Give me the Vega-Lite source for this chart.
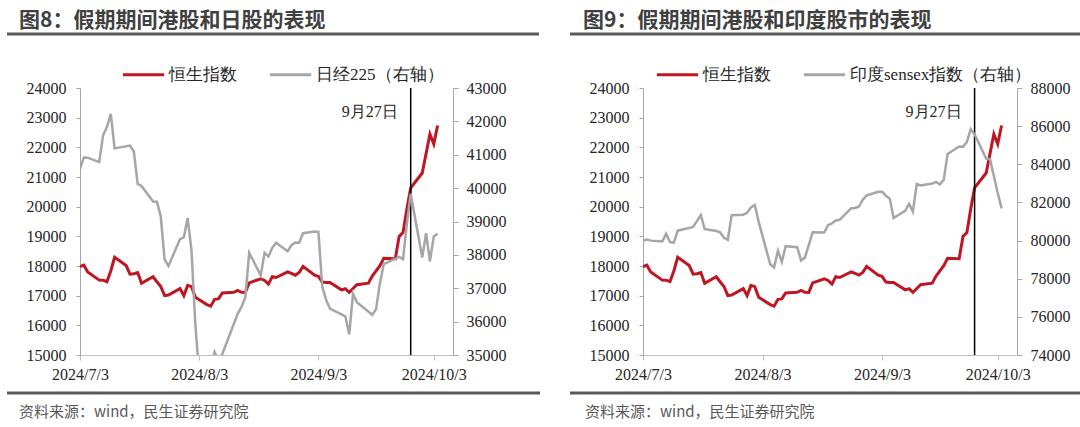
{
  "$schema": "https://vega.github.io/schema/vega-lite/v6.json",
  "background": "white",
  "padding": {"left": 5, "top": 10, "right": 0, "bottom": 0},
  "autosize": {"type": "pad"},
  "config": {
    "view": {"stroke": null},
    "font": "Noto Sans CJK SC",
    "axis": {"grid": false}
  },
  "datasets": {
    "hsi": [
      {"date": "2024-07-03", "value": 17979}, {"date": "2024-07-04", "value": 18028}, {"date": "2024-07-05", "value": 17800},
      {"date": "2024-07-08", "value": 17524}, {"date": "2024-07-09", "value": 17523}, {"date": "2024-07-10", "value": 17472},
      {"date": "2024-07-11", "value": 17832}, {"date": "2024-07-12", "value": 18293}, {"date": "2024-07-15", "value": 18016},
      {"date": "2024-07-16", "value": 17727}, {"date": "2024-07-17", "value": 17739}, {"date": "2024-07-18", "value": 17778},
      {"date": "2024-07-19", "value": 17418}, {"date": "2024-07-22", "value": 17636}, {"date": "2024-07-23", "value": 17469},
      {"date": "2024-07-24", "value": 17311}, {"date": "2024-07-25", "value": 17005}, {"date": "2024-07-26", "value": 17022},
      {"date": "2024-07-29", "value": 17238}, {"date": "2024-07-30", "value": 17003}, {"date": "2024-07-31", "value": 17345},
      {"date": "2024-08-01", "value": 17304}, {"date": "2024-08-02", "value": 16946}, {"date": "2024-08-05", "value": 16699},
      {"date": "2024-08-06", "value": 16647}, {"date": "2024-08-07", "value": 16877}, {"date": "2024-08-08", "value": 16891},
      {"date": "2024-08-09", "value": 17090}, {"date": "2024-08-12", "value": 17112}, {"date": "2024-08-13", "value": 17175},
      {"date": "2024-08-14", "value": 17114}, {"date": "2024-08-15", "value": 17110}, {"date": "2024-08-16", "value": 17430},
      {"date": "2024-08-19", "value": 17570}, {"date": "2024-08-20", "value": 17511}, {"date": "2024-08-21", "value": 17391},
      {"date": "2024-08-22", "value": 17641}, {"date": "2024-08-23", "value": 17612}, {"date": "2024-08-26", "value": 17799},
      {"date": "2024-08-27", "value": 17754}, {"date": "2024-08-28", "value": 17692}, {"date": "2024-08-29", "value": 17786},
      {"date": "2024-08-30", "value": 17989}, {"date": "2024-09-02", "value": 17692}, {"date": "2024-09-03", "value": 17651},
      {"date": "2024-09-04", "value": 17457}, {"date": "2024-09-05", "value": 17444}, {"date": "2024-09-06", "value": 17444},
      {"date": "2024-09-09", "value": 17197}, {"date": "2024-09-10", "value": 17234}, {"date": "2024-09-11", "value": 17109},
      {"date": "2024-09-12", "value": 17240}, {"date": "2024-09-13", "value": 17369}, {"date": "2024-09-16", "value": 17422},
      {"date": "2024-09-17", "value": 17660}, {"date": "2024-09-19", "value": 18013}, {"date": "2024-09-20", "value": 18259},
      {"date": "2024-09-23", "value": 18247}, {"date": "2024-09-24", "value": 19000}, {"date": "2024-09-25", "value": 19129},
      {"date": "2024-09-26", "value": 19924}, {"date": "2024-09-27", "value": 20632}, {"date": "2024-09-30", "value": 21134},
      {"date": "2024-10-02", "value": 22444}, {"date": "2024-10-03", "value": 22114}, {"date": "2024-10-04", "value": 22737}
    ],
    "n225": [
      {"date": "2024-07-03", "value": 40580}, {"date": "2024-07-04", "value": 40914}, {"date": "2024-07-05", "value": 40912},
      {"date": "2024-07-08", "value": 40781}, {"date": "2024-07-09", "value": 41580}, {"date": "2024-07-10", "value": 41831},
      {"date": "2024-07-11", "value": 42224}, {"date": "2024-07-12", "value": 41191}, {"date": "2024-07-16", "value": 41275},
      {"date": "2024-07-17", "value": 41098}, {"date": "2024-07-18", "value": 40126}, {"date": "2024-07-19", "value": 40064},
      {"date": "2024-07-22", "value": 39599}, {"date": "2024-07-23", "value": 39594}, {"date": "2024-07-24", "value": 39155},
      {"date": "2024-07-25", "value": 37869}, {"date": "2024-07-26", "value": 37667}, {"date": "2024-07-29", "value": 38469},
      {"date": "2024-07-30", "value": 38526}, {"date": "2024-07-31", "value": 39102}, {"date": "2024-08-01", "value": 38126},
      {"date": "2024-08-02", "value": 35910}, {"date": "2024-08-05", "value": 31458}, {"date": "2024-08-06", "value": 34675},
      {"date": "2024-08-07", "value": 35089}, {"date": "2024-08-08", "value": 34831}, {"date": "2024-08-09", "value": 35025},
      {"date": "2024-08-13", "value": 36233}, {"date": "2024-08-14", "value": 36442}, {"date": "2024-08-15", "value": 36727},
      {"date": "2024-08-16", "value": 38063}, {"date": "2024-08-19", "value": 37389}, {"date": "2024-08-20", "value": 38063},
      {"date": "2024-08-21", "value": 37952}, {"date": "2024-08-22", "value": 38211}, {"date": "2024-08-23", "value": 38364},
      {"date": "2024-08-26", "value": 38110}, {"date": "2024-08-27", "value": 38289}, {"date": "2024-08-28", "value": 38372},
      {"date": "2024-08-29", "value": 38363}, {"date": "2024-08-30", "value": 38648}, {"date": "2024-09-02", "value": 38701},
      {"date": "2024-09-03", "value": 38686}, {"date": "2024-09-04", "value": 37048}, {"date": "2024-09-05", "value": 36657},
      {"date": "2024-09-06", "value": 36392}, {"date": "2024-09-09", "value": 36216}, {"date": "2024-09-10", "value": 36159},
      {"date": "2024-09-11", "value": 35620}, {"date": "2024-09-12", "value": 36834}, {"date": "2024-09-13", "value": 36582},
      {"date": "2024-09-17", "value": 36204}, {"date": "2024-09-18", "value": 36380}, {"date": "2024-09-19", "value": 37155},
      {"date": "2024-09-20", "value": 37724}, {"date": "2024-09-24", "value": 37941}, {"date": "2024-09-25", "value": 37871},
      {"date": "2024-09-26", "value": 38926}, {"date": "2024-09-27", "value": 39830}, {"date": "2024-09-30", "value": 37920},
      {"date": "2024-10-01", "value": 38652}, {"date": "2024-10-02", "value": 37809}, {"date": "2024-10-03", "value": 38552},
      {"date": "2024-10-04", "value": 38636}
    ],
    "sensex": [
      {"date": "2024-07-03", "value": 79987}, {"date": "2024-07-04", "value": 80050}, {"date": "2024-07-05", "value": 79997},
      {"date": "2024-07-08", "value": 79960}, {"date": "2024-07-09", "value": 80352}, {"date": "2024-07-10", "value": 79925},
      {"date": "2024-07-11", "value": 79897}, {"date": "2024-07-12", "value": 80519}, {"date": "2024-07-15", "value": 80665},
      {"date": "2024-07-16", "value": 80717}, {"date": "2024-07-18", "value": 81343}, {"date": "2024-07-19", "value": 80605},
      {"date": "2024-07-22", "value": 80502}, {"date": "2024-07-23", "value": 80429}, {"date": "2024-07-24", "value": 80149},
      {"date": "2024-07-25", "value": 80040}, {"date": "2024-07-26", "value": 81333}, {"date": "2024-07-29", "value": 81356},
      {"date": "2024-07-30", "value": 81455}, {"date": "2024-07-31", "value": 81741}, {"date": "2024-08-01", "value": 81868},
      {"date": "2024-08-02", "value": 80982}, {"date": "2024-08-05", "value": 78759}, {"date": "2024-08-06", "value": 78593},
      {"date": "2024-08-07", "value": 79468}, {"date": "2024-08-08", "value": 78886}, {"date": "2024-08-09", "value": 79706},
      {"date": "2024-08-12", "value": 79649}, {"date": "2024-08-13", "value": 78956}, {"date": "2024-08-14", "value": 79106},
      {"date": "2024-08-16", "value": 80437}, {"date": "2024-08-19", "value": 80425}, {"date": "2024-08-20", "value": 80803},
      {"date": "2024-08-21", "value": 80905}, {"date": "2024-08-22", "value": 81053}, {"date": "2024-08-23", "value": 81086},
      {"date": "2024-08-26", "value": 81698}, {"date": "2024-08-27", "value": 81712}, {"date": "2024-08-28", "value": 81786},
      {"date": "2024-08-29", "value": 82135}, {"date": "2024-08-30", "value": 82366}, {"date": "2024-09-02", "value": 82560},
      {"date": "2024-09-03", "value": 82555}, {"date": "2024-09-04", "value": 82353}, {"date": "2024-09-05", "value": 82201},
      {"date": "2024-09-06", "value": 81184}, {"date": "2024-09-09", "value": 81560}, {"date": "2024-09-10", "value": 81921},
      {"date": "2024-09-11", "value": 81523}, {"date": "2024-09-12", "value": 82963}, {"date": "2024-09-13", "value": 82891},
      {"date": "2024-09-16", "value": 82989}, {"date": "2024-09-17", "value": 83080}, {"date": "2024-09-18", "value": 82948},
      {"date": "2024-09-19", "value": 83185}, {"date": "2024-09-20", "value": 84544}, {"date": "2024-09-23", "value": 84929},
      {"date": "2024-09-24", "value": 84914}, {"date": "2024-09-25", "value": 85170}, {"date": "2024-09-26", "value": 85836},
      {"date": "2024-09-27", "value": 85572}, {"date": "2024-09-30", "value": 84300}, {"date": "2024-10-01", "value": 84266},
      {"date": "2024-10-03", "value": 82497}, {"date": "2024-10-04", "value": 81688}
    ],
    "event": [{"date": "2024-09-27", "label": "9月27日"}],
    "title8": [{"text": "图8：假期期间港股和日股的表现"}],
    "title9": [{"text": "图9：假期期间港股和印度股市的表现"}],
    "source": [{"text": "资料来源：wind，民生证券研究院"}]
  },
  "resolve": {"scale": {"x": "independent", "y": "independent", "color": "independent"}},
  "spacing": 26,
  "hconcat": [
    {
      "resolve": {"scale": {"x": "independent", "y": "independent", "color": "independent"}},
      "spacing": 16,
      "vconcat": [
        {
          "width": 459, "height": 24,
          "layer": [
            {
              "data": {"name": "title8"},
              "mark": {"type": "text", "align": "left", "baseline": "top", "dx": 12, "fontSize": 21, "fontWeight": "bold", "font": "Noto Sans CJK SC", "color": "#404040"},
              "encoding": {
                "x": {"datum": 0, "type": "quantitative", "scale": {"domain": [0, 1], "range": [-73, 459]}, "axis": null},
                "y": {"datum": 1, "type": "quantitative", "scale": {"domain": [0, 1]}, "axis": null},
                "text": {"field": "text"}
              }
            },
            {
              "data": {"name": "title8"},
              "mark": {"type": "rule", "color": "#595959", "strokeWidth": 3},
              "encoding": {
                "x": {"datum": 0, "type": "quantitative", "axis": null},
                "x2": {"datum": 1},
                "y": {"datum": 0, "type": "quantitative", "axis": null}
              }
            }
          ]
        },
        {
          "resolve": {"scale": {"x": "independent", "y": "independent", "color": "independent"}},
          "spacing": 9,
          "vconcat": [
            {
              "width": 373, "height": 267,
              "resolve": {"scale": {"x": "independent", "y": "independent"}},
              "layer": [
                {
                  "resolve": {"scale": {"y": "independent"}},
                  "layer": [
                    {
                      "layer": [
                        {
                          "data": {"name": "hsi"},
                          "mark": {"type": "line", "strokeWidth": 3, "clip": true},
                          "encoding": {
                            "x": {"field": "date", "type": "temporal",
                              "scale": {"type": "utc", "domain": [{"year": 2024, "month": 7, "date": 3, "utc": true}, {"year": 2024, "month": 10, "date": 8, "utc": true}]},
                              "axis": {"values": [{"year": 2024, "month": 7, "date": 3, "utc": true}, {"year": 2024, "month": 8, "date": 3, "utc": true}, {"year": 2024, "month": 9, "date": 3, "utc": true}, {"year": 2024, "month": 10, "date": 3, "utc": true}],
                                "format": "%Y/%-m/%-d", "title": null, "labelFlush": false, "labelOverlap": false, "labelFont": "Liberation Serif", "labelFontSize": 16, "labelColor": "#262626",
                                "domainColor": "#BFBFBF", "tickColor": "#BFBFBF", "tickSize": 5, "labelPadding": 6}},
                            "y": {"field": "value", "type": "quantitative",
                              "scale": {"domain": [15000, 24000], "zero": false, "nice": false},
                              "axis": {"orient": "left", "values": [15000, 16000, 17000, 18000, 19000, 20000, 21000, 22000, 23000, 24000], "format": "d", "title": null,
                                "labelFlush": false, "labelOverlap": false, "labelFont": "Liberation Serif", "labelFontSize": 16, "labelColor": "#262626",
                                "domainColor": "#A6A6A6", "tickColor": "#A6A6A6", "tickSize": 4, "labelPadding": 10}},
                            "color": {"datum": "恒生指数", "type": "nominal",
                              "scale": {"domain": ["恒生指数", "日经225（右轴）"], "range": ["#BE1622", "#A6A6A6"]},
                              "legend": {"orient": "none", "legendX": 41, "legendY": -36, "direction": "horizontal", "title": null, "labelLimit": 400,
                                "symbolType": "stroke", "symbolSize": 1700, "symbolStrokeWidth": 3, "labelFont": "Liberation Serif", "labelFontSize": 17, "labelColor": "#262626", "labelOffset": 3, "columnPadding": 26}}
                          }
                        },
                        {
                          "data": {"name": "event"},
                          "mark": {"type": "rule", "color": "#000000", "strokeWidth": 1.5},
                          "encoding": {"x": {"field": "date", "type": "temporal"}}
                        },
                        {
                          "data": {"name": "event"},
                          "mark": {"type": "text", "align": "right", "baseline": "middle", "dx": -13, "font": "Liberation Serif", "fontSize": 16, "color": "#262626"},
                          "encoding": {
                            "x": {"field": "date", "type": "temporal"},
                            "y": {"datum": 23200, "type": "quantitative",
                              "axis": {"orient": "left", "values": [15000, 16000, 17000, 18000, 19000, 20000, 21000, 22000, 23000, 24000], "format": "d", "title": null,
                                "labelFlush": false, "labelOverlap": false, "labelFont": "Liberation Serif", "labelFontSize": 16, "labelColor": "#262626",
                                "domainColor": "#A6A6A6", "tickColor": "#A6A6A6", "tickSize": 4, "labelPadding": 10}},
                            "text": {"field": "label"}
                          }
                        }
                      ]
                    },
                    {
                      "data": {"name": "n225"},
                      "mark": {"type": "line", "strokeWidth": 2.5, "clip": true},
                      "encoding": {
                        "x": {"field": "date", "type": "temporal"},
                        "y": {"field": "value", "type": "quantitative",
                          "scale": {"domain": [35000, 43000], "zero": false, "nice": false},
                          "axis": {"orient": "right", "values": [35000, 36000, 37000, 38000, 39000, 40000, 41000, 42000, 43000], "format": "d", "title": null,
                            "labelFlush": false, "labelOverlap": false, "labelFont": "Liberation Serif", "labelFontSize": 16, "labelColor": "#262626",
                            "domainColor": "#A6A6A6", "tickColor": "#A6A6A6", "tickSize": 5, "labelPadding": 8}},
                        "color": {"datum": "日经225（右轴）", "type": "nominal"}
                      }
                    }
                  ]
                },
                {
                  "data": {"name": "source"},
                  "mark": {"type": "rule", "color": "#595959", "strokeWidth": 3},
                  "encoding": {
                    "x": {"datum": 0, "type": "quantitative", "scale": {"domain": [0, 1], "range": [-73, 460]}, "axis": null},
                    "x2": {"datum": 1},
                    "y": {"datum": 0, "type": "quantitative", "scale": {"domain": [0, 1], "range": [305, 306]}, "axis": null}
                  }
                }
              ]
            },
            {
              "width": 460, "height": 15,
              "data": {"name": "source"},
              "mark": {"type": "text", "align": "left", "baseline": "middle", "dx": 12, "fontSize": 15, "font": "Noto Sans CJK SC", "color": "#595959"},
              "encoding": {
                "x": {"datum": 0, "type": "quantitative", "scale": {"domain": [0, 1], "range": [-73, 460]}, "axis": null},
                "y": {"datum": 0.5, "type": "quantitative", "scale": {"domain": [0, 1]}, "axis": null},
                "text": {"field": "text"}
              }
            }
          ]
        }
      ]
    },
    {
      "resolve": {"scale": {"x": "independent", "y": "independent", "color": "independent"}},
      "spacing": 16,
      "vconcat": [
        {
          "width": 443, "height": 24,
          "layer": [
            {
              "data": {"name": "title9"},
              "mark": {"type": "text", "align": "left", "baseline": "top", "dx": 13, "fontSize": 21, "fontWeight": "bold", "font": "Noto Sans CJK SC", "color": "#404040"},
              "encoding": {
                "x": {"datum": 0, "type": "quantitative", "scale": {"domain": [0, 1], "range": [-73, 443]}, "axis": null},
                "y": {"datum": 1, "type": "quantitative", "scale": {"domain": [0, 1]}, "axis": null},
                "text": {"field": "text"}
              }
            },
            {
              "data": {"name": "title9"},
              "mark": {"type": "rule", "color": "#595959", "strokeWidth": 3},
              "encoding": {
                "x": {"datum": 0, "type": "quantitative", "axis": null},
                "x2": {"datum": 1},
                "y": {"datum": 0, "type": "quantitative", "axis": null}
              }
            }
          ]
        },
        {
          "resolve": {"scale": {"x": "independent", "y": "independent", "color": "independent"}},
          "spacing": 9,
          "vconcat": [
            {
              "width": 374, "height": 267,
              "resolve": {"scale": {"x": "independent", "y": "independent"}},
              "layer": [
                {
                  "resolve": {"scale": {"y": "independent"}},
                  "layer": [
                    {
                      "layer": [
                        {
                          "data": {"name": "hsi"},
                          "mark": {"type": "line", "strokeWidth": 3, "clip": true},
                          "encoding": {
                            "x": {"field": "date", "type": "temporal",
                              "scale": {"type": "utc", "domain": [{"year": 2024, "month": 7, "date": 3, "utc": true}, {"year": 2024, "month": 10, "date": 8, "utc": true}]},
                              "axis": {"values": [{"year": 2024, "month": 7, "date": 3, "utc": true}, {"year": 2024, "month": 8, "date": 3, "utc": true}, {"year": 2024, "month": 9, "date": 3, "utc": true}, {"year": 2024, "month": 10, "date": 3, "utc": true}],
                                "format": "%Y/%-m/%-d", "title": null, "labelFlush": false, "labelOverlap": false, "labelFont": "Liberation Serif", "labelFontSize": 16, "labelColor": "#262626",
                                "domainColor": "#BFBFBF", "tickColor": "#BFBFBF", "tickSize": 5, "labelPadding": 6}},
                            "y": {"field": "value", "type": "quantitative",
                              "scale": {"domain": [15000, 24000], "zero": false, "nice": false},
                              "axis": {"orient": "left", "values": [15000, 16000, 17000, 18000, 19000, 20000, 21000, 22000, 23000, 24000], "format": "d", "title": null,
                                "labelFlush": false, "labelOverlap": false, "labelFont": "Liberation Serif", "labelFontSize": 16, "labelColor": "#262626",
                                "domainColor": "#A6A6A6", "tickColor": "#A6A6A6", "tickSize": 4, "labelPadding": 10}},
                            "color": {"datum": "恒生指数", "type": "nominal",
                              "scale": {"domain": ["恒生指数", "印度sensex指数（右轴）"], "range": ["#BE1622", "#A6A6A6"]},
                              "legend": {"orient": "none", "legendX": 12, "legendY": -36, "direction": "horizontal", "title": null, "labelLimit": 400,
                                "symbolType": "stroke", "symbolSize": 1700, "symbolStrokeWidth": 3, "labelFont": "Liberation Serif", "labelFontSize": 17, "labelColor": "#262626", "labelOffset": 3, "columnPadding": 26}}
                          }
                        },
                        {
                          "data": {"name": "event"},
                          "mark": {"type": "rule", "color": "#000000", "strokeWidth": 1.5},
                          "encoding": {"x": {"field": "date", "type": "temporal"}}
                        },
                        {
                          "data": {"name": "event"},
                          "mark": {"type": "text", "align": "right", "baseline": "middle", "dx": -13, "font": "Liberation Serif", "fontSize": 16, "color": "#262626"},
                          "encoding": {
                            "x": {"field": "date", "type": "temporal"},
                            "y": {"datum": 23200, "type": "quantitative",
                              "axis": {"orient": "left", "values": [15000, 16000, 17000, 18000, 19000, 20000, 21000, 22000, 23000, 24000], "format": "d", "title": null,
                                "labelFlush": false, "labelOverlap": false, "labelFont": "Liberation Serif", "labelFontSize": 16, "labelColor": "#262626",
                                "domainColor": "#A6A6A6", "tickColor": "#A6A6A6", "tickSize": 4, "labelPadding": 10}},
                            "text": {"field": "label"}
                          }
                        }
                      ]
                    },
                    {
                      "data": {"name": "sensex"},
                      "mark": {"type": "line", "strokeWidth": 2.5, "clip": true},
                      "encoding": {
                        "x": {"field": "date", "type": "temporal"},
                        "y": {"field": "value", "type": "quantitative",
                          "scale": {"domain": [74000, 88000], "zero": false, "nice": false},
                          "axis": {"orient": "right", "values": [74000, 76000, 78000, 80000, 82000, 84000, 86000, 88000], "format": "d", "title": null,
                            "labelFlush": false, "labelOverlap": false, "labelFont": "Liberation Serif", "labelFontSize": 16, "labelColor": "#262626",
                            "domainColor": "#A6A6A6", "tickColor": "#A6A6A6", "tickSize": 5, "labelPadding": 8}},
                        "color": {"datum": "印度sensex指数（右轴）", "type": "nominal"}
                      }
                    }
                  ]
                },
                {
                  "data": {"name": "source"},
                  "mark": {"type": "rule", "color": "#595959", "strokeWidth": 3},
                  "encoding": {
                    "x": {"datum": 0, "type": "quantitative", "scale": {"domain": [0, 1], "range": [-73, 443]}, "axis": null},
                    "x2": {"datum": 1},
                    "y": {"datum": 0, "type": "quantitative", "scale": {"domain": [0, 1], "range": [305, 306]}, "axis": null}
                  }
                }
              ]
            },
            {
              "width": 443, "height": 15,
              "data": {"name": "source"},
              "mark": {"type": "text", "align": "left", "baseline": "middle", "dx": 12, "fontSize": 15, "font": "Noto Sans CJK SC", "color": "#595959"},
              "encoding": {
                "x": {"datum": 0, "type": "quantitative", "scale": {"domain": [0, 1], "range": [-70, 443]}, "axis": null},
                "y": {"datum": 0.5, "type": "quantitative", "scale": {"domain": [0, 1]}, "axis": null},
                "text": {"field": "text"}
              }
            }
          ]
        }
      ]
    }
  ]
}
